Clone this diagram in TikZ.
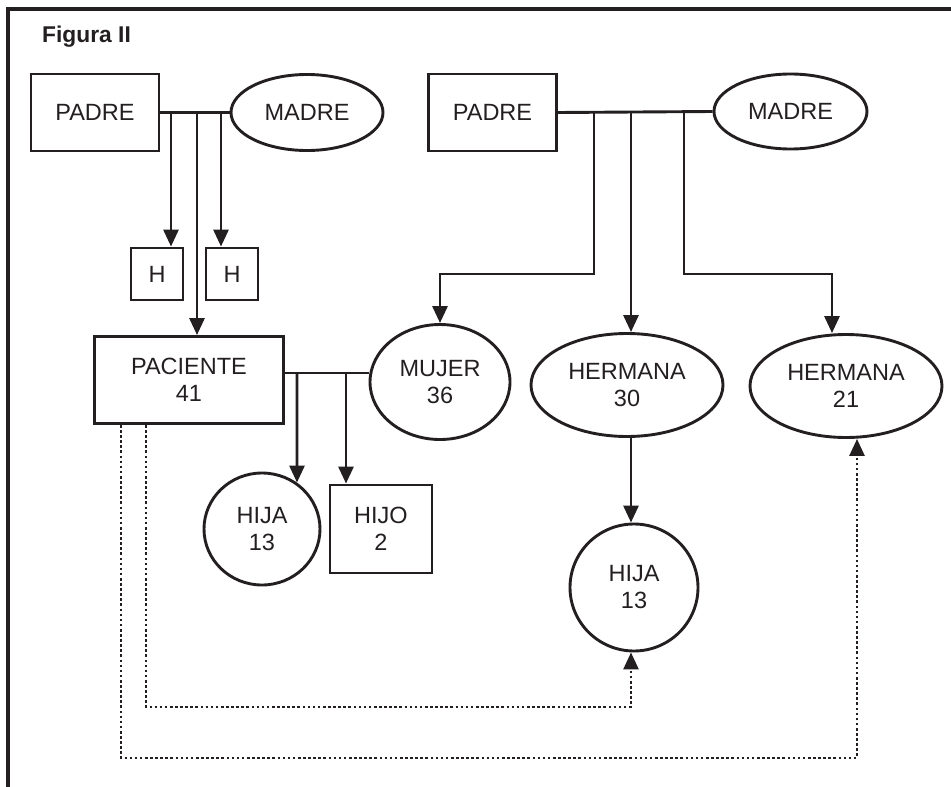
\documentclass[tikz,border=0pt]{standalone}
\usepackage{fontspec}
\setmainfont{Liberation Sans}
\usetikzlibrary{shapes.geometric,arrows.meta}
\definecolor{ink}{RGB}{35,31,32}
\newcommand{\nfs}{\fontsize{23.5}{27}\selectfont}
\tikzset{
  base/.style={draw=ink, line width=2.9pt, inner sep=0pt, align=center, font=\nfs, text=ink},
  rbox/.style={base, rectangle},
  oval/.style={base, ellipse},
  conn/.style={draw=ink, line width=2.9pt},
  arr/.style={conn, -{Triangle[length=17pt,width=15pt]}},
  dots/.style={draw=ink, line width=2.7pt, dash pattern=on 2.6pt off 2.5pt},
  darr/.style={dots, -{Triangle[length=17pt,width=15pt]}}
}
\begin{document}
\begin{tikzpicture}[x=1pt,y=-1pt]
\useasboundingbox (0,0) rectangle (951,787);
% frame
\draw[line width=3.2pt, ink] (8,787) -- (8,9) -- (951,9);
\node[anchor=base west, inner sep=0pt, font=\bfseries\fontsize{22.8}{26}\selectfont, text=ink] (title) at (42,42.5) {Figura II};

% left family
\node[rbox, minimum width=128pt, minimum height=77pt] (padreL) at (95,112.5) {PADRE};
\node[oval, minimum width=152pt, minimum height=76pt] (madreL) at (307,112.5) {MADRE};
\node[rbox, minimum width=52pt, minimum height=52pt] (hA) at (157,274) {H};
\node[rbox, minimum width=52pt, minimum height=52pt] (hB) at (232,274) {H};
\node[rbox, minimum width=189pt, minimum height=87pt] (pac) at (189,380) {PACIENTE\\41};
\node[oval, minimum width=140pt, minimum height=115pt] (mujer) at (440,382) {MUJER\\36};
\node[oval, minimum width=116pt, minimum height=112pt] (hijaL) at (262,529) {HIJA\\13};
\node[rbox, minimum width=102pt, minimum height=88pt] (hijo) at (381,529) {HIJO\\2};

% right family
\node[rbox, minimum width=128pt, minimum height=77pt] (padreR) at (492.5,112.5) {PADRE};
\node[oval, minimum width=153pt, minimum height=75pt] (madreR) at (790.5,111.5) {MADRE};
\node[oval, minimum width=192pt, minimum height=103pt] (h30) at (627,385) {HERMANA\\30};
\node[oval, minimum width=192pt, minimum height=103pt] (h21) at (846,386) {HERMANA\\21};
\node[oval, minimum width=128pt, minimum height=127pt] (hijaR) at (634,587.5) {HIJA\\13};

% coordinates
\coordinate (lA) at (171,112.5);
\coordinate (lB) at (197,112.5);
\coordinate (lC) at (221,112.5);
\coordinate (pm) at (284,373);
\coordinate (cA) at (297,373);
\coordinate (cB) at (346,373);
\coordinate (r1) at (594,112.5);
\coordinate (r2) at (631,112.5);
\coordinate (r3) at (684,112.5);
\coordinate (k1) at (440,274);
\coordinate (k3) at (832,274);
\coordinate (q1) at (146,707);
\coordinate (q2) at (631,707);
\coordinate (o1) at (121,758);
\coordinate (o2) at (857,758);

% left connectors
\draw[conn] (padreL.east) -- (madreL.west);
\draw[arr] (lA) -- (lA |- hA.north);
\draw[arr] (lC) -- (lC |- hB.north);
\draw[arr] (lB) -- (lB |- pac.north);
\draw[conn] (pac.east |- pm) -- (mujer.west |- pm);
\draw[arr] (cA) -- (hijaL.53);
\draw[arr] (cB) -- (cB |- hijo.north);

% right connectors
\draw[conn] (padreR.east) -- (madreR.west);
\draw[arr] (r1) |- (k1) -- (mujer.north);
\draw[arr] (r2) -- (r2 |- h30.north);
\draw[arr] (r3) |- (k3) -- (k3 |- h21.north);
\draw[arr] (r2 |- h30.south) -- (r2 |- hijaR.north);

% dotted connectors
\draw[darr] (pac.south -| q1) |- (q2) -- (q2 |- hijaR.south);
\draw[darr] (pac.south -| o1) |- (o2) -- (o2 |- h21.south);
\end{tikzpicture}
\end{document}
